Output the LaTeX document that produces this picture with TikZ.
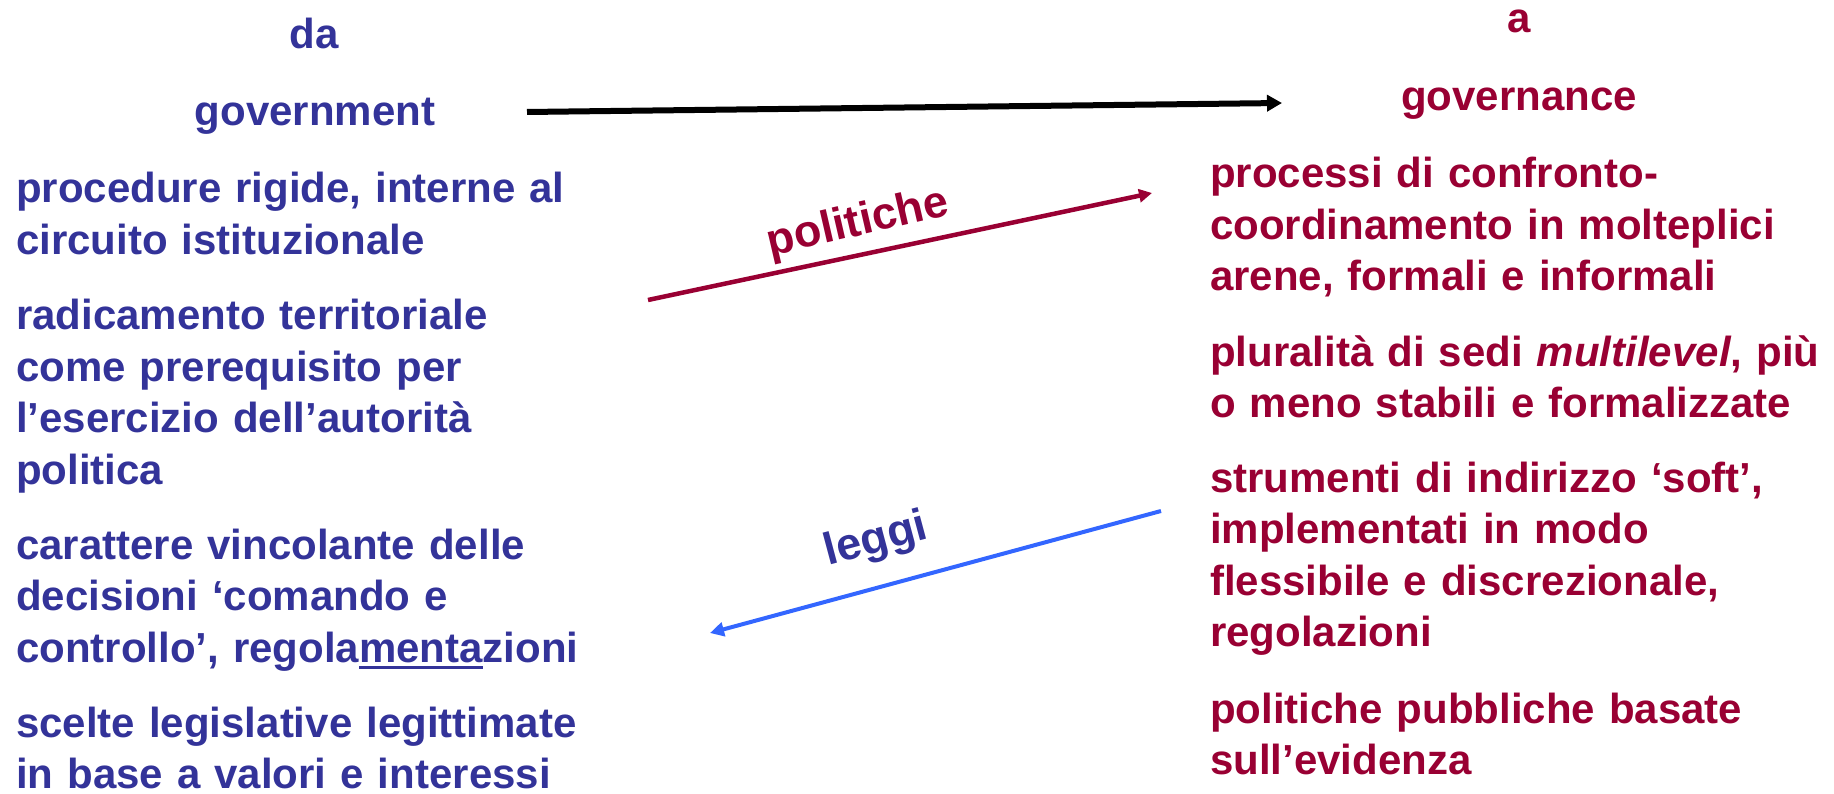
\documentclass[tikz,border=0pt]{standalone}
\usepackage{fontspec}
\setmainfont{Liberation Sans}
\usetikzlibrary{arrows.meta}
\definecolor{govblue}{RGB}{51,51,153}
\definecolor{govred}{RGB}{153,0,51}
\definecolor{lawblue}{RGB}{51,102,255}
\newcommand{\slidefont}{\fontsize{42}{51.5}\selectfont\bfseries}
\newcommand{\labelfont}{\fontsize{45}{50}\selectfont\bfseries}
\newcommand{\sottolinea}[1]{\setbox0\hbox{#1}\rlap{\rule[-7pt]{\wd0}{3pt}}\box0}
\tikzset{
  fromtext/.style={font=\slidefont,text=govblue,inner sep=0pt,anchor=base west,text width=620pt,align=left},
  totext/.style={font=\slidefont,text=govred,inner sep=0pt,anchor=base west,text width=640pt,align=left},
  toptitle/.style={font=\slidefont,inner sep=0pt,anchor=base},
  arrowlabel/.style={font=\labelfont,inner sep=0pt},
}
\begin{document}
\begin{tikzpicture}[x=1pt,y=-1pt]
\useasboundingbox (0,0) rectangle (1834,794);
% titoli
\node[toptitle,text=govblue] (da) at (314,49) {da};
\node[toptitle,text=govblue] (govt) at (315,126) {government};
\node[toptitle,text=govred] (a) at (1519,33) {a};
\node[toptitle,text=govred] (govnc) at (1519,111) {governance};

% colonna sinistra
\node[fromtext] (proc) at (16,203) {procedure rigide, interne al\\circuito istituzionale};
\node[fromtext] (radic) at (16,330) {radicamento territoriale\\come prerequisito per\\l’esercizio dell’autorità\\politica};
\node[fromtext] (carat) at (16,559) {carattere vincolante delle\\decisioni ‘comando e\\controllo’, regola\sottolinea{menta}zioni};
\node[fromtext] (scelte) at (16,737) {scelte legislative legittimate\\in base a valori e interessi};

% colonna destra
\node[totext] (confr) at (1210,188) {processi di confronto-\\coordinamento in molteplici\\arene, formali e informali};
\node[totext] (sedi) at (1210,366) {pluralità di sedi \textit{multilevel}, più\\o meno stabili e formalizzate};
\node[totext] (strum) at (1210,492) {strumenti di indirizzo ‘soft’,\\implementati in modo\\flessibile e discrezionale,\\regolazioni};
\node[totext] (evid) at (1210,723) {politiche pubbliche basate\\sull’evidenza};

% frecce
\coordinate (gs) at (527,112);
\coordinate (ge) at (1282,103);
\draw[line width=6pt,-{Triangle[length=15pt,width=16pt]}] (gs) -- (ge);

\coordinate (ps) at (648,300);
\coordinate (pe) at (1152,193);
\draw[govred,line width=4.5pt,-{Triangle[length=13pt,width=13pt]}] (ps) -- (pe);
\node[arrowlabel,text=govred,rotate=13] (pol) at (858,224) {politiche};

\coordinate (ls) at (1161,511);
\coordinate (le) at (710,633);
\draw[lawblue,line width=4pt,-{Triangle[length=14pt,width=14pt]}] (ls) -- (le);
\node[arrowlabel,text=govblue,rotate=15] (leg) at (876,541) {leggi};
\end{tikzpicture}
\end{document}
